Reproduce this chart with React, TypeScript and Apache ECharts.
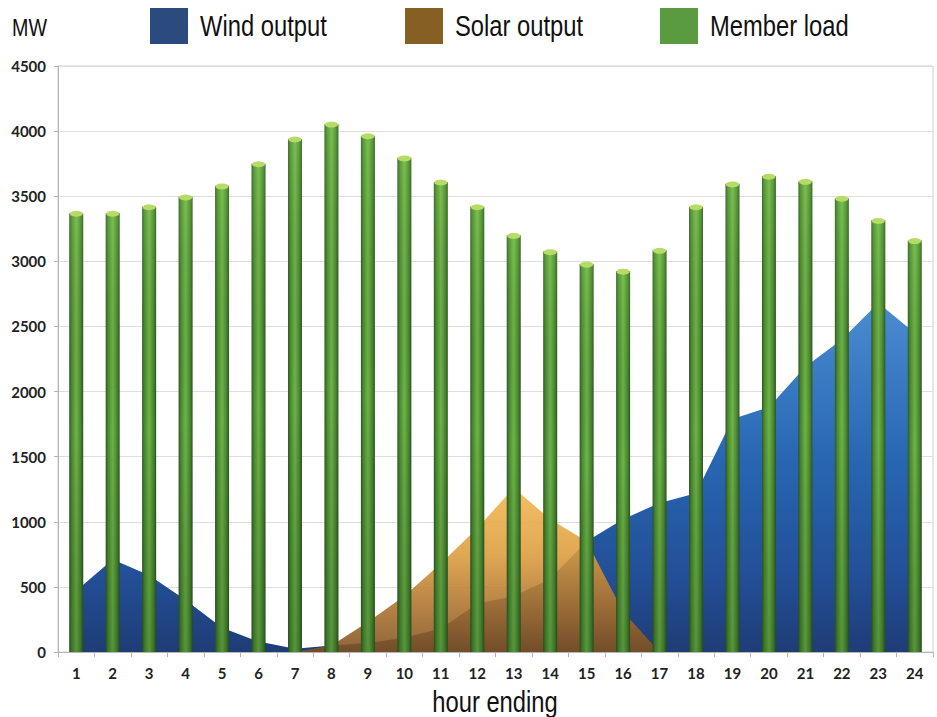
import React, { useEffect, useRef } from "react";
import * as echarts from "echarts";

const hours = ["1","2","3","4","5","6","7","8","9","10","11","12","13","14","15","16","17","18","19","20","21","22","23","24"];
const windOutput = [470, 710, 590, 400, 186, 80, 25, 50, 70, 110, 180, 370, 430, 560, 850, 1020, 1145, 1220, 1790, 1880, 2190, 2400, 2680, 2450];
const solarOutput = [0, 0, 0, 0, 0, 0, 0, 50, 230, 430, 680, 950, 1260, 1020, 850, 310, 0, 0, 0, 0, 0, 0, 0, 0];
const memberLoad = [3370, 3370, 3420, 3495, 3580, 3750, 3940, 4055, 3965, 3795, 3610, 3420, 3200, 3075, 2980, 2925, 3085, 3420, 3595, 3655, 3615, 3485, 3315, 3160];
const yTicks = { min: 0, max: 4500, interval: 500 };
const legendNames = ["Wind output", "Solar output", "Member load"];
const legendColors = ["#2b4a7e", "#855f24", "#5a9b42"];

const SANS = "'Liberation Sans', Arial, sans-serif";
const TICKFONT = "Lato, 'Liberation Sans', sans-serif";
const NARROW_SCALE = 0.82;

export default function App() {
  const ref = useRef<HTMLDivElement>(null);
  useEffect(() => {
    if (!ref.current) return;
    const chart = echarts.init(ref.current, null, { renderer: "svg" });
    const G = echarts.graphic.LinearGradient;
    const legendIconX = [150, 405, 660];
    const legendGraphics: any[] = [];
    legendNames.forEach((name, i) => {
      legendGraphics.push({
        type: "rect",
        shape: { x: legendIconX[i], y: 8, width: 38, height: 36 },
        style: { fill: legendColors[i] },
      });
      legendGraphics.push({
        type: "text",
        x: legendIconX[i] + 50,
        y: 26,
        scaleX: NARROW_SCALE,
        style: { text: name, fontFamily: SANS, fontSize: 29, fill: "#111", textVerticalAlign: "middle" },
      });
    });
    chart.setOption({
      animation: false,
      backgroundColor: "#ffffff",
      grid: { left: 58, right: 4, top: 66, bottom: 65, show: true, borderColor: "#cfcfcf", borderWidth: 1 },
      xAxis: {
        type: "category",
        data: hours,
        boundaryGap: true,
        axisLine: { lineStyle: { color: "#b5b5b5" } },
        axisTick: { show: true, alignWithLabel: false, length: 5, lineStyle: { color: "#b5b5b5" } },
        axisLabel: { fontFamily: TICKFONT, fontWeight: "bold", fontSize: 15, color: "#222", margin: 13 },
      },
      yAxis: {
        type: "value",
        min: yTicks.min,
        max: yTicks.max,
        interval: yTicks.interval,
        axisLine: { show: true, lineStyle: { color: "#b5b5b5" } },
        axisTick: { show: true, length: 4, lineStyle: { color: "#b5b5b5" } },
        axisLabel: {
          fontFamily: TICKFONT,
          fontWeight: "bold",
          fontSize: 15,
          color: "#222",
          margin: 12,
          formatter: (v: number) => String(v),
        },
        splitLine: { lineStyle: { color: "#dedede" } },
      },
      graphic: [
        ...legendGraphics,
        {
          type: "text",
          x: 12,
          y: 28,
          scaleX: NARROW_SCALE,
          style: { text: "MW", fontFamily: SANS, fontSize: 24, fill: "#111", textVerticalAlign: "middle" },
        },
        {
          type: "text",
          x: 495,
          y: 702,
          scaleX: NARROW_SCALE,
          style: { text: "hour ending", fontFamily: SANS, fontSize: 29, fill: "#111", textAlign: "center", textVerticalAlign: "middle" },
        },
      ],
      series: [
        {
          name: "Wind output",
          type: "line",
          data: windOutput,
          symbol: "none",
          lineStyle: { width: 0 },
          areaStyle: {
            opacity: 1,
            color: new G(0, 0, 0, 1, [
              { offset: 0, color: "#4a8cd2" },
              { offset: 0.45, color: "#2866b2" },
              { offset: 0.78, color: "#234f98" },
              { offset: 1, color: "#1f3c75" },
            ]),
          },
          z: 1,
        },
        {
          name: "Solar output",
          type: "line",
          data: solarOutput,
          symbol: "none",
          lineStyle: { width: 0 },
          areaStyle: {
            opacity: 0.88,
            color: new G(0, 0, 0, 1, [
              { offset: 0, color: "#f3b64e" },
              { offset: 0.4, color: "#dd9c3c" },
              { offset: 0.75, color: "#a86e2a" },
              { offset: 1, color: "#7e5020" },
            ]),
          },
          z: 1,
        },
        {
          name: "Member load",
          type: "bar",
          data: memberLoad,
          barWidth: 14,
          itemStyle: {
            color: new G(0, 0, 1, 0, [
              { offset: 0, color: "#2d5a20" },
              { offset: 0.18, color: "#4c8a33" },
              { offset: 0.5, color: "#6db548" },
              { offset: 0.8, color: "#4c8a33" },
              { offset: 1, color: "#2b561f" },
            ]),
          },
          z: 2,
        },
        {
          name: "load shade",
          type: "bar",
          data: memberLoad,
          barWidth: 14,
          barGap: "-100%",
          silent: true,
          itemStyle: {
            color: new G(0, 0, 0, 1, [
              { offset: 0, color: "rgba(190,255,120,0.15)" },
              { offset: 0.5, color: "rgba(0,0,0,0)" },
              { offset: 1, color: "rgba(10,40,10,0.22)" },
            ]),
          },
          z: 3,
        },
        {
          name: "load cap",
          type: "pictorialBar",
          data: memberLoad,
          symbol: "circle",
          symbolSize: [13, 6],
          symbolPosition: "end",
          symbolOffset: [0, "-40%"],
          silent: true,
          itemStyle: { color: "#b6dc66" },
          z: 4,
        },
      ],
    });
    return () => chart.dispose();
  }, []);
  return <div ref={ref} style={{ position: "fixed", left: 0, top: 0, width: 937, height: 717 }} />;
}
